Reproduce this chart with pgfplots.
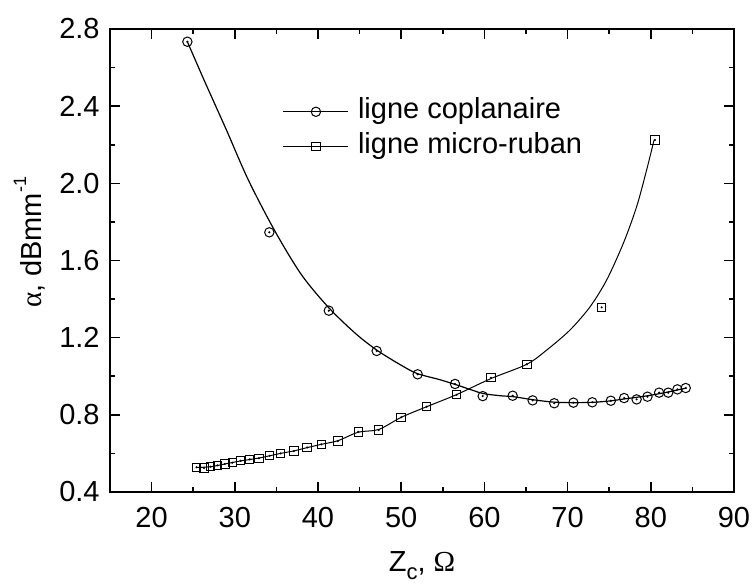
\documentclass[border=0pt]{standalone}
\usepackage{fontspec}
\setmainfont{Liberation Sans}
\newfontfamily\seriffont{Liberation Serif}
\usepackage{pgfplots}
\pgfplotsset{compat=1.18}
\usepackage{pgfplotstable}

\newcommand\fs{\fontsize{14.5}{17}\selectfont}

% coplanar line: measured points
\pgfplotstableread{
x y
24.3 2.734
34.15 1.746
41.3 1.340
47.05 1.131
51.98 1.010
56.47 0.960
59.8 0.897
63.4 0.899
65.8 0.875
68.4 0.860
70.7 0.863
72.97 0.865
75.2 0.873
76.8 0.887
78.3 0.880
79.6 0.894
81.0 0.915
82.1 0.915
83.2 0.932
84.2 0.939
}\coplanpts

% coplanar line: fitted curve
\pgfplotstableread{
x y
24.3 2.734
26.3 2.536
29.0 2.276
31.6 2.020
34.75 1.758
38.0 1.527
41.3 1.355
44.5 1.222
47.05 1.136
49.8 1.062
51.86 1.015
54.66 0.982
56.67 0.955
58.67 0.926
59.87 0.910
61.88 0.899
63.48 0.894
65.88 0.878
68.29 0.866
70.69 0.863
73.09 0.865
75.10 0.872
77.10 0.884
79.50 0.898
81.91 0.917
84.31 0.939
}\coplancurve

% micro-strip line: measured points
\pgfplotstableread{
x y
25.4 0.528
26.3 0.524
27.1 0.531
27.9 0.538
28.8 0.545
29.7 0.552
30.7 0.562
31.8 0.569
32.9 0.575
34.2 0.588
35.5 0.600
37.1 0.612
38.7 0.631
40.4 0.647
42.4 0.664
44.85 0.712
47.3 0.721
50.0 0.787
53.06 0.842
56.67 0.904
60.8 0.992
65.1 1.062
74.1 1.357
80.5 2.225
}\micropts

% micro-strip line: curve
\pgfplotstableread{
x y
25.4 0.527
27.1 0.531
28.8 0.545
30.7 0.561
32.9 0.576
35.5 0.600
37.1 0.613
38.7 0.630
40.4 0.647
42.4 0.666
44.85 0.710
47.3 0.724
50.0 0.787
53.06 0.842
56.67 0.905
60.8 0.988
65.1 1.062
67.5 1.136
70.3 1.240
72.7 1.360
74.7 1.499
76.7 1.689
78.3 1.879
79.5 2.069
80.4 2.225
}\microcurve

\begin{document}
\begin{tikzpicture}
\path[use as bounding box] (-55pt,-45.5pt) rectangle (321pt,246pt);
\begin{axis}[
  scale only axis, width=312pt, height=231.5pt,
  xmin=15, xmax=90, ymin=0.4, ymax=2.8,
  xtick={20,30,40,50,60,70,80,90},
  ytick={0.4,0.8,1.2,1.6,2.0,2.4,2.8},
  minor x tick num=1, minor y tick num=1,
  tick align=inside, major tick length=5pt, minor tick length=2.5pt,
  major tick style={line width=0.8pt, black},
  minor tick style={line width=0.8pt, black},
  axis line style={line width=1pt},
  /pgf/number format/assume math mode=true,
  tick label style={font=\fs},
  x tick label style={inner sep=0pt, yshift=-7.5pt},
  y tick label style={inner sep=0pt, xshift=-5pt, /pgf/number format/.cd, fixed, fixed zerofill, precision=1},
  xlabel={Z\raisebox{-0.25em}{\fontsize{11}{12}\selectfont c}, {\seriffont Ω}},
  ylabel={{\seriffont α}, dBmm\raisebox{0.55em}{\fontsize{9}{10}\selectfont -1}},
  xlabel style={at={(axis description cs:0.5,-0.1728)}, anchor=base, font=\fs, inner sep=0pt},
  ylabel style={at={(axis description cs:-0.109,0.539)}, anchor=base, font=\fs, inner sep=0pt},
  legend cell align=left,
  legend style={draw=none, fill=none, font=\fs, at={(axis description cs:0.277,0.859)}, anchor=north west,
    inner sep=0pt, outer sep=0pt, row sep=0pt, column sep=4.5pt,
    nodes={inner sep=0pt, text height=12pt, text depth=5.5pt}},
  legend image code/.code={\draw[mark repeat=2, mark phase=2] plot coordinates {(0pt,0pt) (16.25pt,0pt) (32.5pt,0pt)};},
]
\addplot[black, line width=0.6pt, smooth, tension=0.5, forget plot] table {\coplancurve};
\addplot[black, line width=0.5pt, smooth, tension=0.5, forget plot] table {\microcurve};
\addplot[only marks, black, mark=o, mark size=2.35pt, mark options={line width=0.5pt}, forget plot] table {\coplanpts};
\addplot[only marks, black, mark=square, mark size=2.1pt, mark options={line width=0.5pt}, forget plot] table {\micropts};
\addplot[only marks, black, mark=*, mark size=0.3pt, forget plot] table {\coplanpts};
\addplot[only marks, black, mark=*, mark size=0.3pt, forget plot] table {\micropts};
\addlegendimage{black, line width=0.6pt, mark=o, mark size=2.35pt, mark options={line width=0.5pt}}
\addlegendentry{ligne coplanaire}
\addlegendimage{black, line width=0.5pt, mark=square, mark size=2.1pt, mark options={line width=0.5pt}}
\addlegendentry{ligne micro-ruban}
\end{axis}
\end{tikzpicture}
\end{document}
